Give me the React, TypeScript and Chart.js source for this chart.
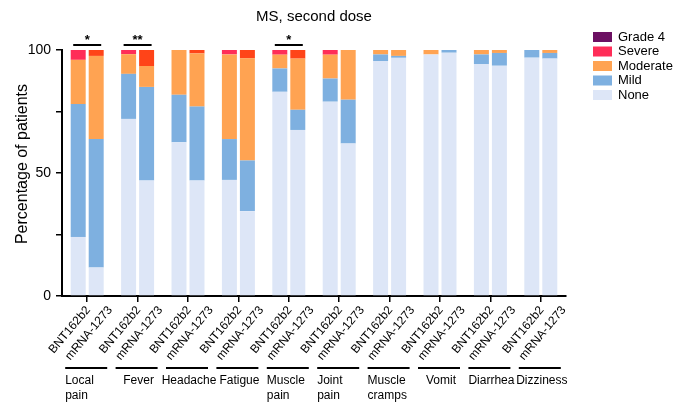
import React, { useEffect, useRef } from "react";
import { Chart, registerables } from "chart.js";

Chart.register(...registerables);

const groups = ["Local pain", "Fever", "Headache", "Fatigue", "Muscle pain", "Joint pain", "Muscle cramps", "Vomit", "Diarrhea", "Dizziness"];
const groupLines = [["Local", "pain"], ["Fever"], ["Headache"], ["Fatigue"], ["Muscle", "pain"], ["Joint", "pain"], ["Muscle", "cramps"], ["Vomit"], ["Diarrhea"], ["Dizziness"]];
const vaccines = ["BNT162b2", "mRNA-1273"];
const levels = ["None", "Mild", "Moderate", "Severe", "Grade 4"];

const bntNone = [24, 72, 62.5, 47.2, 83, 79, 95.5, 98.2, 94.2, 96.9];
const bntMild = [54, 18.3, 19.3, 16.6, 9.5, 9.4, 2.7, 0, 4, 3.1];
const bntModerate = [18, 8, 18.2, 34.4, 5.6, 9.7, 1.8, 1.8, 1.8, 0];
const bntSevere = [4, 1.7, 0, 1.8, 1.9, 1.9, 0, 0, 0, 0];
const bntGrade4 = [0, 0, 0, 0, 0, 0, 0, 0, 0, 0];

const mrnaNone = [11.6, 47, 47, 34.5, 67.5, 62, 96.8, 98.9, 93.6, 96.5];
const mrnaMild = [52.2, 38, 30, 20.6, 8.2, 17.8, 0.8, 1.1, 5.2, 2.3];
const mrnaModerate = [33.8, 8.5, 21.6, 41.5, 20.8, 20.2, 2.4, 0, 1.2, 1.2];
const mrnaSevere = [2.4, 6.5, 1.4, 3.4, 3.5, 0, 0, 0, 0, 0];
const mrnaGrade4 = [0, 0, 0, 0, 0, 0, 0, 0, 0, 0];

const significance = ["*", "**", "", "", "*", "", "", "", "", ""];
const yTickLabels = [0, 50, 100];

const colNone = "#dde6f7";
const colMild = "#7eb0e0";
const colModerate = "#ffa352";
const colSevereBnt = "#ff2d58";
const colSevereMrna = "#ff4418";
const colGrade4 = "#6c1062";

const FONT = "'Liberation Sans', Arial, Helvetica, sans-serif";

const overlay = {
  id: "overlay",
  afterDraw(chart: any) {
    const ctx = chart.ctx;
    const area = chart.chartArea;
    ctx.save();
    ctx.fillStyle = "#000";
    ctx.strokeStyle = "#000";

    // title
    ctx.font = `15px ${FONT}`;
    ctx.textAlign = "center";
    ctx.textBaseline = "middle";
    ctx.fillText("MS, second dose", (area.left + area.right) / 2, 17);

    // y title
    ctx.save();
    ctx.translate(23, 164);
    ctx.rotate(-Math.PI / 2);
    ctx.font = `16px ${FONT}`;
    ctx.fillText("Percentage of patients", 0, 0);
    ctx.restore();

    // legend
    const legendItems = [
      { label: "Grade 4", color: colGrade4 },
      { label: "Severe", color: colSevereBnt },
      { label: "Moderate", color: colModerate },
      { label: "Mild", color: colMild },
      { label: "None", color: colNone },
    ];
    ctx.font = `13px ${FONT}`;
    ctx.textAlign = "left";
    legendItems.forEach((it, k) => {
      const cy = 37 + k * 14.5;
      ctx.fillStyle = it.color;
      ctx.fillRect(593, cy - 5, 19, 10);
      ctx.fillStyle = "#000";
      ctx.fillText(it.label, 618, cy);
    });

    const metaB = chart.getDatasetMeta(0);
    const metaM = chart.getDatasetMeta(5);
    const xScale = chart.scales.x;

    groups.forEach((g, i) => {
      const xb = metaB.data[i].x;
      const xm = metaM.data[i].x;
      const xc = xScale.getPixelForValue(i);

      // rotated vaccine labels
      ctx.font = `12px ${FONT}`;
      ctx.textAlign = "right";
      ctx.textBaseline = "middle";
      [xb + 10, xm + 14].forEach((ax, v) => {
        ctx.save();
        ctx.translate(ax, 308);
        ctx.rotate((-50 * Math.PI) / 180);
        ctx.fillText(vaccines[v], 0, 0);
        ctx.restore();
      });

      // group underline
      ctx.lineWidth = 2;
      ctx.beginPath();
      ctx.moveTo(xc - 22, 368);
      ctx.lineTo(xc + 20, 368);
      ctx.stroke();

      // group label
      const lines = groupLines[i];
      ctx.font = `12px ${FONT}`;
      if (lines.length > 1) {
        ctx.textAlign = "left";
        lines.forEach((ln, k) => ctx.fillText(ln, xc - 22, 381 + k * 15));
      } else {
        ctx.textAlign = "center";
        ctx.fillText(lines[0], xc + 1, 381);
      }

      // significance
      const s = significance[i];
      if (s) {
        ctx.lineWidth = 2;
        ctx.beginPath();
        ctx.moveTo(xb - 5, 45);
        ctx.lineTo(xm + 5, 45);
        ctx.stroke();
        ctx.font = `bold 13px ${FONT}`;
        ctx.textAlign = "center";
        ctx.textBaseline = "middle";
        ctx.fillText(s, xc, 40);
      }
    });
    ctx.restore();
  },
};

export default function App() {
  const ref = useRef<HTMLCanvasElement | null>(null);

  useEffect(() => {
    document.body.style.margin = "0";
    const canvas = ref.current;
    if (!canvas) return;
    const mk = (label: string, data: number[], color: string, stack: string) => ({
      label,
      data,
      backgroundColor: color,
      borderWidth: 0,
      stack,
      categoryPercentage: 0.714,
      barPercentage: 0.833,
    });
    const datasets = [
      mk(levels[0], bntNone, colNone, "BNT"),
      mk(levels[1], bntMild, colMild, "BNT"),
      mk(levels[2], bntModerate, colModerate, "BNT"),
      mk(levels[3], bntSevere, colSevereBnt, "BNT"),
      mk(levels[4], bntGrade4, colGrade4, "BNT"),
      mk(levels[0], mrnaNone, colNone, "mRNA"),
      mk(levels[1], mrnaMild, colMild, "mRNA"),
      mk(levels[2], mrnaModerate, colModerate, "mRNA"),
      mk(levels[3], mrnaSevere, colSevereMrna, "mRNA"),
      mk(levels[4], mrnaGrade4, colGrade4, "mRNA"),
    ];
    const chart = new Chart(canvas, {
      type: "bar",
      data: { labels: groups, datasets },
      options: {
        responsive: false,
        animation: false,
        devicePixelRatio: 1,
        layout: { padding: { left: 0, top: 50, right: 114, bottom: 0 } },
        plugins: {
          legend: { display: false },
          title: { display: false },
          tooltip: { enabled: false },
        },
        scales: {
          x: {
            stacked: true,
            grid: {
              display: true,
              drawOnChartArea: false,
              drawTicks: true,
              tickLength: 6,
              offset: false,
              color: "#000",
              lineWidth: 1.5,
            },
            border: { display: true, color: "#000", width: 2 },
            ticks: { display: false },
            afterFit: (s: any) => {
              s.height = 108;
            },
          },
          y: {
            stacked: true,
            min: 0,
            max: 100,
            ticks: {
              stepSize: 25,
              callback: (v: any) => (yTickLabels.includes(Number(v)) ? String(v) : ""),
              font: { size: 14, family: FONT },
              color: "#000",
              padding: 5,
            },
            grid: {
              drawOnChartArea: false,
              drawTicks: true,
              tickLength: 6,
              color: "#000",
              lineWidth: 1.5,
            },
            border: { display: true, color: "#000", width: 2 },
            afterFit: (s: any) => {
              s.width = 62;
            },
          },
        },
      },
      plugins: [overlay],
    });
    return () => chart.destroy();
  }, []);

  return (
    <div style={{ width: 680, height: 404, background: "#fff" }}>
      <canvas ref={ref} width={680} height={404} style={{ display: "block" }} />
    </div>
  );
}
